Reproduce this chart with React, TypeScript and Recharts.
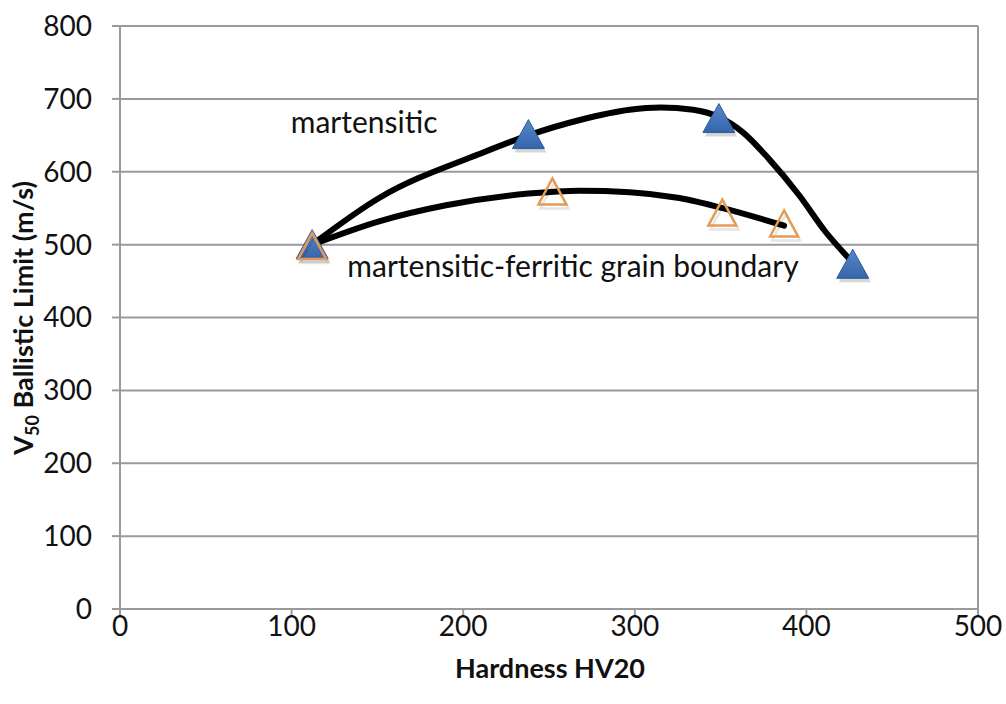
import React from 'react';
import { ComposedChart, Line, Scatter, XAxis, YAxis, CartesianGrid, ReferenceLine, ReferenceDot } from 'recharts';

// measured points (hardness HV20, V50 m/s)
const martensitic = [
  { x: 112, y: 500 },
  { x: 238, y: 651 },
  { x: 349, y: 673 },
  { x: 427, y: 473 },
];

const grainBoundary = [
  { x: 112, y: 498 },
  { x: 252, y: 573 },
  { x: 351, y: 544 },
  { x: 387, y: 529 },
];

// trend curves
const martensiticTrend = [
  { x: 112, y: 500 },
  { x: 151, y: 564 },
  { x: 209, y: 624 },
  { x: 238, y: 650 },
  { x: 268, y: 671 },
  { x: 297, y: 685 },
  { x: 315, y: 688 },
  { x: 334, y: 685 },
  { x: 349, y: 675 },
  { x: 363, y: 654 },
  { x: 378, y: 618 },
  { x: 396, y: 567 },
  { x: 411, y: 518 },
  { x: 426, y: 478 },
];

const grainTrend = [
  { x: 112, y: 500 },
  { x: 151, y: 532 },
  { x: 190, y: 554 },
  { x: 238, y: 570 },
  { x: 268, y: 574 },
  { x: 297, y: 572 },
  { x: 326, y: 564 },
  { x: 353, y: 549 },
  { x: 387, y: 526 },
];

const xTicks = [0, 100, 200, 300, 400, 500];
const yTicks = [0, 100, 200, 300, 400, 500, 600, 700, 800];

const FONT = 'Lato, "Open Sans", sans-serif';
const GRID = '#9a9a9a';
const INK = '#111';

const BlueTriangle = (props: any) => {
  const { cx, cy } = props;
  const pts = (dx: number, dy: number) =>
    `${cx + dx},${cy - 15 + dy} ${cx - 16 + dx},${cy + 14 + dy} ${cx + 16 + dx},${cy + 14 + dy}`;
  return (
    <g>
      <polygon points={pts(2, 4)} fill="#000" opacity={0.16} />
      <polygon points={pts(0, 0)} fill="url(#blueFill)" stroke="#2f5b95" strokeWidth={1} />
    </g>
  );
};

const OrangeTriangle = (props: any) => {
  const { cx, cy } = props;
  const pts = (dx: number, dy: number) =>
    `${cx + dx},${cy - 13 + dy} ${cx - 14 + dx},${cy + 13 + dy} ${cx + 14 + dx},${cy + 13 + dy}`;
  return (
    <g>
      <polygon points={pts(2, 4)} fill="none" stroke="#000" strokeWidth={2.5} opacity={0.1} />
      <polygon points={pts(0, 0)} fill="none" stroke="#e59a55" strokeWidth={2.5} />
    </g>
  );
};

const YTitle = () => (
  <text
    transform="translate(33, 318) rotate(-90)"
    textAnchor="middle"
    fontFamily={FONT}
    fontWeight="bold"
    fontSize={27}
    fill={INK}
  >
    V<tspan fontSize={18} dy={6}>50</tspan>
    <tspan dy={-6}> Ballistic Limit (m/s)</tspan>
  </text>
);

const XTitle = () => (
  <text x={550} y={678} textAnchor="middle" fontFamily={FONT} fontWeight="bold" fontSize={27} fill={INK}>
    Hardness HV20
  </text>
);

const App: React.FC = () => {
  return (
    <div style={{ position: 'absolute', left: 0, top: 0, width: 1006, height: 704, background: '#fff' }}>
      <ComposedChart width={1006} height={704} margin={{ top: 26, right: 28, bottom: 0, left: 40 }}>
        <defs>
          <linearGradient id="blueFill" x1="0" y1="0" x2="0" y2="1">
            <stop offset="0%" stopColor="#5688c9" />
            <stop offset="100%" stopColor="#3566aa" />
          </linearGradient>
        </defs>
        <CartesianGrid horizontal vertical={false} stroke={GRID} strokeWidth={2} />
        <XAxis
          type="number"
          dataKey="x"
          domain={[0, 500]}
          ticks={xTicks}
          height={95}
          stroke={GRID}
          strokeWidth={2}
          tickSize={8}
          tick={{ fill: INK, fontSize: 28, fontFamily: FONT }}
          tickMargin={-1}
          label={<XTitle />}
        />
        <YAxis
          type="number"
          dataKey="y"
          domain={[0, 800]}
          ticks={yTicks}
          width={80}
          stroke={GRID}
          strokeWidth={2}
          tickSize={8}
          tick={{ fill: INK, fontSize: 28, fontFamily: FONT }}
          tickMargin={20}
          label={<YTitle />}
        />
        <ReferenceLine x={500} stroke={GRID} strokeWidth={2} />
        <Scatter data={martensitic} dataKey="y" shape={<BlueTriangle />} isAnimationActive={false} />
        <Scatter data={grainBoundary} dataKey="y" shape={<OrangeTriangle />} isAnimationActive={false} />
        <Line
          data={martensiticTrend}
          dataKey="y"
          type="monotone"
          stroke="#000"
          strokeWidth={6}
          strokeLinecap="round"
          dot={false}
          activeDot={false}
          isAnimationActive={false}
        />
        <Line
          data={grainTrend}
          dataKey="y"
          type="monotone"
          stroke="#000"
          strokeWidth={6}
          strokeLinecap="round"
          dot={false}
          activeDot={false}
          isAnimationActive={false}
        />
        <ReferenceDot
          x={99.5}
          y={668}
          r={0}
          fill="none"
          stroke="none"
          label={{ value: 'martensitic', position: 'right', offset: 0, fill: INK, fontSize: 30, fontFamily: FONT }}
        />
        <ReferenceDot
          x={132.5}
          y={470}
          r={0}
          fill="none"
          stroke="none"
          label={{
            value: 'martensitic-ferritic grain boundary',
            position: 'right',
            offset: 0,
            fill: INK,
            fontSize: 30,
            fontFamily: FONT,
          }}
        />
      </ComposedChart>
    </div>
  );
};

export default App;
